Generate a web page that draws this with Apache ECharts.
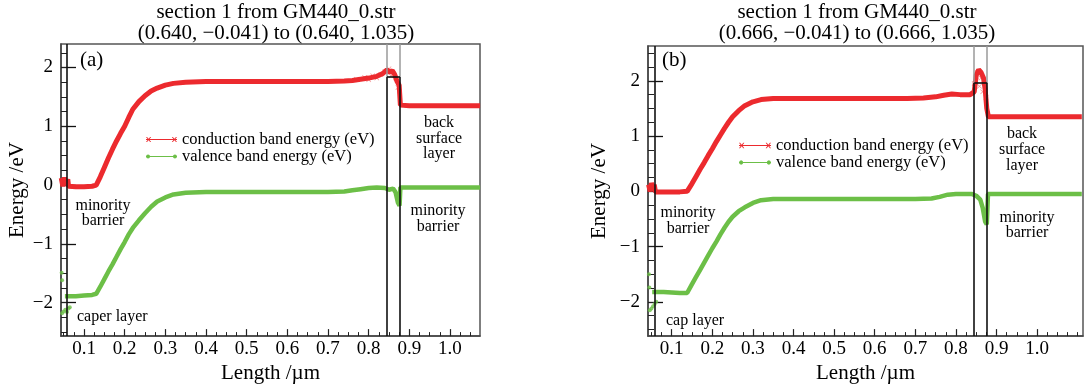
<!DOCTYPE html>
<html><head><meta charset="utf-8">
<script src="https://cdn.jsdelivr.net/npm/echarts@6/dist/echarts.min.js"></script>
<style>html,body{margin:0;padding:0;background:#fff}#c{width:1084px;height:389px}</style>
</head><body><div id="c"></div>
<script>
// ---------- data ----------
const xTickLabels = [0.1,0.2,0.3,0.4,0.5,0.6,0.7,0.8,0.9,1.0];
const yTickLabels = [-2,-1,0,1,2];
const boundaries = [0.058, 0.845, 0.877];

const cbA = [[0.044,0.12],[0.048,-0.02],[0.052,0.13],[0.056,0.0],[0.06,0.1],[0.062,-0.02],[0.08,-0.03],[0.1,-0.03],[0.12,-0.02],[0.13,0.0],[0.14,0.14],[0.15,0.3],[0.16,0.46],[0.17,0.61],[0.18,0.75],[0.19,0.88],[0.2,1.0],[0.21,1.15],[0.22,1.29],[0.235,1.42],[0.25,1.52],[0.265,1.6],[0.28,1.65],[0.3,1.7],[0.32,1.73],[0.35,1.75],[0.4,1.76],[0.5,1.76],[0.6,1.76],[0.7,1.76],[0.74,1.77],[0.76,1.78],[0.78,1.8],[0.8,1.82],[0.82,1.85],[0.835,1.9],[0.845,1.96],[0.852,1.92],[0.858,1.95],[0.864,1.88],[0.87,1.76],[0.875,1.7],[0.878,1.36],[0.9,1.35],[1.0,1.35],[1.074,1.35]];
const vbA = [[0.053,-1.89],[0.08,-1.89],[0.1,-1.88],[0.12,-1.87],[0.13,-1.85],[0.14,-1.73],[0.15,-1.6],[0.16,-1.47],[0.17,-1.35],[0.18,-1.22],[0.19,-1.09],[0.2,-0.97],[0.21,-0.84],[0.22,-0.73],[0.235,-0.6],[0.25,-0.48],[0.265,-0.37],[0.28,-0.28],[0.3,-0.21],[0.32,-0.16],[0.35,-0.13],[0.4,-0.12],[0.5,-0.12],[0.6,-0.12],[0.7,-0.12],[0.74,-0.11],[0.76,-0.09],[0.78,-0.07],[0.8,-0.05],[0.82,-0.04],[0.84,-0.05],[0.85,-0.08],[0.86,-0.06],[0.866,-0.12],[0.872,-0.3],[0.876,-0.35],[0.878,-0.04],[0.9,-0.04],[1.0,-0.04],[1.074,-0.04]];
const vbStartA = [[0.045,-1.49],[0.046,-1.62],[0.046,-2.18],[0.05,-2.15],[0.054,-2.12],[0.058,-2.16],[0.062,-2.1],[0.065,-2.08]];
const noiseA = [[0.77,1.8],[0.79,1.83],[0.8,1.79],[0.81,1.86],[0.82,1.82],[0.83,1.88],[0.84,1.93],[0.85,1.98],[0.855,1.86],[0.86,1.9],[0.866,1.82],[0.872,1.66],[0.876,1.6]];

const cbB = [[0.043,0.12],[0.047,0.0],[0.05,0.15],[0.054,0.05],[0.057,0.12],[0.06,-0.01],[0.08,-0.01],[0.1,-0.01],[0.12,-0.01],[0.138,0.0],[0.15,0.14],[0.16,0.27],[0.17,0.4],[0.18,0.52],[0.19,0.65],[0.2,0.77],[0.21,0.9],[0.22,1.02],[0.23,1.14],[0.24,1.25],[0.25,1.35],[0.265,1.46],[0.28,1.55],[0.3,1.62],[0.32,1.66],[0.35,1.68],[0.4,1.68],[0.5,1.68],[0.6,1.68],[0.68,1.68],[0.72,1.69],[0.75,1.71],[0.77,1.74],[0.79,1.76],[0.81,1.75],[0.835,1.75],[0.845,1.8],[0.85,2.1],[0.856,2.2],[0.862,2.15],[0.868,2.05],[0.872,1.85],[0.876,1.5],[0.88,1.35],[0.9,1.35],[1.0,1.35],[1.11,1.35]];
const vbB = [[0.052,-1.82],[0.08,-1.82],[0.1,-1.83],[0.12,-1.84],[0.138,-1.84],[0.15,-1.68],[0.16,-1.55],[0.17,-1.42],[0.18,-1.29],[0.19,-1.16],[0.2,-1.03],[0.21,-0.91],[0.22,-0.78],[0.23,-0.66],[0.24,-0.55],[0.25,-0.46],[0.265,-0.36],[0.28,-0.29],[0.3,-0.21],[0.32,-0.16],[0.35,-0.14],[0.4,-0.14],[0.6,-0.14],[0.7,-0.14],[0.74,-0.13],[0.76,-0.1],[0.78,-0.06],[0.8,-0.05],[0.84,-0.05],[0.85,-0.08],[0.86,-0.15],[0.866,-0.3],[0.872,-0.55],[0.876,-0.6],[0.879,-0.05],[0.9,-0.05],[1.0,-0.05],[1.11,-0.05]];
const vbStartB = [[0.044,-1.5],[0.045,-1.74],[0.046,-2.15],[0.05,-2.12],[0.054,-2.08],[0.058,-2.04],[0.062,-2.0]];
const noiseB = [[0.845,1.95],[0.85,2.0],[0.853,2.15],[0.858,1.9],[0.862,2.05],[0.866,1.8],[0.87,1.95],[0.874,1.7]];

// ---------- styling ----------
const FONT = 'Liberation Serif';
const RED = '#ec2a2e', GREEN = '#6cbf47', PINK = '#f07a7c';
const CB = 'conduction band energy (eV)', VB = 'valence band energy (eV)';
const XSYM = 'path://M0,1L1,0L5,4L9,0L10,1L6,5L10,9L9,10L5,6L1,10L0,9L4,5Z';
const ICON_CB = 'path://M0,3.1L30,3.1L30,3.9L0,3.9Z' +
  'M0,1L1,1L2.5,2.8L4,1L5,1L3.1,3.5L5,6L4,6L2.5,4.2L1,6L0,6L1.9,3.5Z' +
  'M25,1L26,1L27.5,2.8L29,1L30,1L28.1,3.5L30,6L29,6L27.5,4.2L26,6L25,6L26.9,3.5Z';
const ICON_VB = 'path://M0,3.1L30,3.1L30,3.9L0,3.9Z' +
  'M4,3.5L3.4,4.9L2,5.5L0.6,4.9L0,3.5L0.6,2.1L2,1.5L3.4,2.1Z' +
  'M30,3.5L29.4,4.9L28,5.5L26.6,4.9L26,3.5L26.6,2.1L28,1.5L29.4,2.1Z';

function minorVals(a, b, step){ const r=[]; for(let v=a; v<=b+1e-9; v+=step) r.push(+v.toFixed(4)); return r; }
const fmtY = v => v < 0 ? '\u2212' + Math.abs(v) : String(v);

const panels = [
  {grid:{left:61, top:44, width:419, height:294}, xr:[0.0434,1.0738], yr:[-2.57,2.40], cb:cbA, vb:vbA, vs:vbStartA, noise:noiseA, level:1.84, yGap:33},
  {grid:{left:648, top:46, width:435, height:293}, xr:[0.0416,1.113], yr:[-2.62,2.63], cb:cbB, vb:vbB, vs:vbStartB, noise:noiseB, level:1.96, yGap:38}
];

const option = {animation:false, grid:[], xAxis:[], yAxis:[], series:[], title:[], legend:[], graphic:[]};

panels.forEach((p, i) => {
  option.grid.push(Object.assign({show:true, borderColor:'#555', borderWidth:1.5, backgroundColor:'transparent'}, p.grid));
  const xMinor = minorVals(0.05, p.xr[1], 0.025);
  const yMinor = minorVals(-2.5, p.yr[1], 0.25);
  option.xAxis.push({gridIndex:i, type:'value', min:p.xr[0], max:p.xr[1], position:'bottom',
    axisLine:{onZero:false, lineStyle:{color:'#444', width:1.5}},
    axisTick:{inside:true, length:7, customValues:xTickLabels, lineStyle:{color:'#222', width:1.2}},
    axisLabel:{customValues:xTickLabels, formatter:v=>v.toFixed(1), fontFamily:FONT, fontSize:19, color:'#000', margin:3},
    splitLine:{show:false},
    name:'Length /\u00b5m', nameLocation:'middle', nameGap:23, nameTextStyle:{fontFamily:FONT, fontSize:21, color:'#000'}});
  option.xAxis.push({gridIndex:i, type:'value', min:p.xr[0], max:p.xr[1], position:'bottom',
    axisLine:{show:false, onZero:false}, axisTick:{inside:true, length:4, customValues:xMinor, lineStyle:{color:'#222', width:1}},
    axisLabel:{show:false}, splitLine:{show:false}});
  option.yAxis.push({gridIndex:i, type:'value', min:p.yr[0], max:p.yr[1], position:'left',
    axisLine:{onZero:false, lineStyle:{color:'#444', width:1.5}},
    axisTick:{inside:true, length:15, customValues:yTickLabels, lineStyle:{color:'#111', width:1.3}},
    axisLabel:{customValues:yTickLabels, formatter:fmtY, fontFamily:FONT, fontSize:19, color:'#000', margin:8},
    splitLine:{show:false},
    name:'Energy /eV', nameLocation:'middle', nameGap:p.yGap, nameTextStyle:{fontFamily:FONT, fontSize:21, color:'#000'}});
  option.yAxis.push({gridIndex:i, type:'value', min:p.yr[0], max:p.yr[1], position:'left',
    axisLine:{show:false, onZero:false}, axisTick:{inside:true, length:6, customValues:yMinor, lineStyle:{color:'#222', width:1}},
    axisLabel:{show:false}, splitLine:{show:false}});

  const xi = i*2, yi = i*2;
  const ymin = p.yr[0], ymax = p.yr[1];
  const black = {color:'#111', width:1.6, type:'solid'};
  const gray = {color:'#9a9a9a', width:1.5, type:'solid'};
  const ml = [
    [{coord:[boundaries[0], ymin], lineStyle:black}, {coord:[boundaries[0], ymax]}],
    [{coord:[boundaries[1], ymin], lineStyle:black}, {coord:[boundaries[1], p.level]}],
    [{coord:[boundaries[2], ymin], lineStyle:black}, {coord:[boundaries[2], p.level]}],
    [{coord:[boundaries[1], p.level], lineStyle:gray}, {coord:[boundaries[1], ymax]}],
    [{coord:[boundaries[2], p.level], lineStyle:gray}, {coord:[boundaries[2], ymax]}],
    [{coord:[boundaries[1], p.level], lineStyle:black}, {coord:[boundaries[2], p.level]}]
  ];

  option.series.push({type:'scatter', name:'noise'+i, xAxisIndex:xi, yAxisIndex:yi, data:p.noise,
    symbol:XSYM, symbolSize:5, itemStyle:{color:PINK}, z:2, silent:true});
  option.series.push({type:'scatter', name:'vstart'+i, xAxisIndex:xi, yAxisIndex:yi, data:p.vs,
    symbol:'circle', symbolSize:4, itemStyle:{color:GREEN}, z:3, silent:true});
  option.series.push({type:'line', name:VB, xAxisIndex:xi, yAxisIndex:yi, data:p.vb,
    showSymbol:false, symbol:'circle', symbolSize:5, lineStyle:{color:GREEN, width:4.5}, itemStyle:{color:GREEN}, z:3});
  option.series.push({type:'line', name:CB, xAxisIndex:xi, yAxisIndex:yi, data:p.cb,
    showSymbol:false, symbol:XSYM, symbolSize:6, lineStyle:{color:RED, width:5}, itemStyle:{color:RED}, z:4,
    markLine:{silent:true, symbol:'none', label:{show:false}, data:ml, animation:false}});
});

option.title = [
  {text:'section 1 from GM440_0.str\n(0.640, \u22120.041) to (0.640, 1.035)', left:276, top:2, textAlign:'center', padding:0,
   textStyle:{fontFamily:FONT, fontSize:21, fontWeight:'normal', lineHeight:21, color:'#000'}},
  {text:'section 1 from GM440_0.str\n(0.666, \u22120.041) to (0.666, 1.035)', left:857, top:2, textAlign:'center', padding:0,
   textStyle:{fontFamily:FONT, fontSize:21, fontWeight:'normal', lineHeight:21, color:'#000'}}
];

const legendData = [
  {name:CB, icon:ICON_CB, itemStyle:{color:RED, borderColor:RED, borderWidth:0, decal:'none'}},
  {name:VB, icon:ICON_VB, itemStyle:{color:GREEN, borderColor:GREEN, borderWidth:0}}
];
option.legend = [
  {data:legendData, orient:'vertical', left:146, top:131, padding:0, itemGap:0, itemWidth:31, itemHeight:6,
   itemStyle:{borderWidth:0}, lineStyle:{width:0},
   textStyle:{fontFamily:FONT, fontSize:16.5, lineHeight:15, color:'#000'}, selectedMode:false},
  {data:legendData, orient:'vertical', left:739, top:137, padding:0, itemGap:0, itemWidth:32, itemHeight:6,
   itemStyle:{borderWidth:0}, lineStyle:{width:0},
   textStyle:{fontFamily:FONT, fontSize:16.5, lineHeight:16, color:'#000'}, selectedMode:false}
];

function txt(t, x, y, size, align, lh){
  return {type:'text', x:x, y:y, silent:true, style:{text:t, fontFamily:FONT, fontSize:size, fill:'#000', align:align, verticalAlign:'middle', lineHeight:lh||size}};
}
option.graphic = [
  txt('(a)', 80, 60, 21, 'left'),
  txt('minority\nbarrier', 103, 213.5, 16, 'center', 15),
  txt('caper layer', 77, 317, 16, 'left'),
  txt('back\nsurface\nlayer', 439, 138.5, 16, 'center', 15.5),
  txt('minority\nbarrier', 438, 219, 16, 'center', 16),
  txt('(b)', 662, 60, 21, 'left'),
  txt('minority\nbarrier', 688, 221, 16, 'center', 16),
  txt('cap layer', 666, 321, 16, 'left'),
  txt('back\nsurface\nlayer', 1022, 149.5, 16, 'center', 16),
  txt('minority\nbarrier', 1027, 225.5, 16, 'center', 15)
];

const chart = echarts.init(document.getElementById('c'), null, {renderer:'canvas'});
chart.setOption(option);
</script>
</body></html>
